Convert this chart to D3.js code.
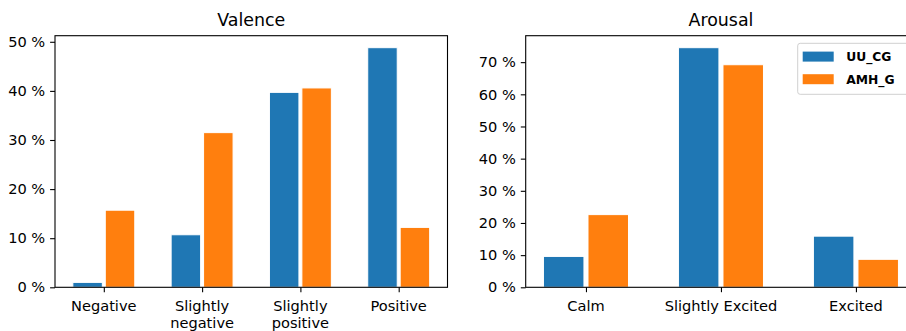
<!DOCTYPE html>
<html>
<head>
<meta charset="utf-8">
<script src="https://cdn.jsdelivr.net/npm/d3@7"></script>
<style>
  html, body { margin: 0; padding: 0; background: #fff; overflow: hidden; }
  svg { display: block; font-family: "DejaVu Sans", sans-serif; }
</style>
</head>
<body>
<svg id="chart" width="906" height="331"></svg>
<script>
// Series
const seriesNames = ["UU_CG", "AMH_G"];
const seriesColors = ["#1f77b4", "#ff7f0e"];

// Valence panel
const valenceCategories = ["Negative", "Slightly\nnegative", "Slightly\npositive", "Positive"];
const valenceUU = [1.0, 10.7, 39.7, 48.8];
const valenceAMH = [15.7, 31.5, 40.6, 12.2];
const valenceTicks = [0, 10, 20, 30, 40, 50];

// Arousal panel
const arousalCategories = ["Calm", "Slightly Excited", "Excited"];
const arousalUU = [9.6, 74.5, 15.9];
const arousalAMH = [22.6, 69.2, 8.7];
const arousalTicks = [0, 10, 20, 30, 40, 50, 60, 70];

const svg = d3.select("#chart");

const barWidth = 0.3;
const barOffset = 0.165;
const tickLen = 4.9;
const tickFont = 14.6;
const titleFont = 17.4;

function panel(opts) {
  const { left, top, width, height, title, categories, values, ticks, legend } = opts;
  const g = svg.append("g").attr("transform", `translate(${left},${top})`);

  // x domain with 5% margins around the bar extents
  const lo = -barOffset - barWidth / 2;
  const hi = categories.length - 1 + barOffset + barWidth / 2;
  const m = (hi - lo) * 0.05;
  const x = d3.scaleLinear().domain([lo - m, hi + m]).range([0, width]);

  const maxV = d3.max(values.flat());
  const y = d3.scaleLinear().domain([0, maxV * 1.05]).range([height, 0]);

  // bars
  values.forEach((series, si) => {
    const off = si === 0 ? -barOffset : barOffset;
    g.append("g").selectAll("rect")
      .data(series)
      .join("rect")
      .attr("x", (d, i) => x(i + off - barWidth / 2))
      .attr("width", x(barWidth) - x(0))
      .attr("y", d => y(d))
      .attr("height", d => y(0) - y(d))
      .attr("fill", seriesColors[si])
      .attr("stroke", "#fff")
      .attr("stroke-width", 1);
  });

  // y axis
  const yAxis = g.append("g")
    .call(d3.axisLeft(y).tickValues(ticks).tickFormat(d => d + " %")
      .tickSize(tickLen).tickPadding(4.9));
  yAxis.select(".domain").remove();
  yAxis.selectAll("text").attr("font-size", tickFont).attr("fill", "#000")
    .attr("font-family", "DejaVu Sans, sans-serif");
  yAxis.selectAll("line").attr("stroke", "#000").attr("stroke-width", 1.1);

  // x axis
  const xAxis = g.append("g").attr("transform", `translate(0,${height})`)
    .call(d3.axisBottom(x).tickValues(d3.range(categories.length)).tickFormat("")
      .tickSize(tickLen));
  xAxis.select(".domain").remove();
  xAxis.selectAll("line").attr("stroke", "#000").attr("stroke-width", 1.1);
  categories.forEach((c, i) => {
    const t = g.append("text")
      .attr("x", x(i))
      .attr("y", height + 23.6)
      .attr("text-anchor", "middle")
      .attr("font-size", tickFont)
      .attr("fill", "#000");
    c.split("\n").forEach((line, li) => {
      t.append("tspan").attr("x", x(i)).attr("dy", li === 0 ? 0 : 17.2).text(line);
    });
  });

  // frame
  g.append("rect")
    .attr("x", 0).attr("y", 0).attr("width", width).attr("height", height)
    .attr("fill", "none").attr("stroke", "#000").attr("stroke-width", 1.1);

  // title
  g.append("text")
    .attr("x", width / 2).attr("y", -9.5)
    .attr("text-anchor", "middle")
    .attr("font-size", titleFont)
    .attr("fill", "#000")
    .text(title);

  if (legend) {
    const lw = 113, lh = 51;
    const lx = width - 5.5 - lw, ly = 7.6;
    const lg = g.append("g").attr("transform", `translate(${lx},${ly})`);
    lg.append("rect")
      .attr("width", lw).attr("height", lh).attr("rx", 2.5)
      .attr("fill", "#fff").attr("fill-opacity", 0.8)
      .attr("stroke", "#d0d0d0").attr("stroke-width", 1);
    seriesNames.forEach((name, i) => {
      lg.append("rect")
        .attr("x", 5).attr("y", 8.3 + i * 22.6)
        .attr("width", 31).attr("height", 10)
        .attr("fill", seriesColors[i]);
      lg.append("text")
        .attr("x", 48.5).attr("y", 18 + i * 22.6)
        .attr("font-size", 12.3)
        .attr("font-weight", "bold")
        .attr("fill", "#000")
        .text(name);
    });
  }
}

panel({
  left: 55, top: 35.7, width: 392.5, height: 251.6,
  title: "Valence",
  categories: valenceCategories,
  values: [valenceUU, valenceAMH],
  ticks: valenceTicks
});

panel({
  left: 525.7, top: 35.7, width: 390.5, height: 251.6,
  title: "Arousal",
  categories: arousalCategories,
  values: [arousalUU, arousalAMH],
  ticks: arousalTicks,
  legend: true
});
</script>
</body>
</html>
